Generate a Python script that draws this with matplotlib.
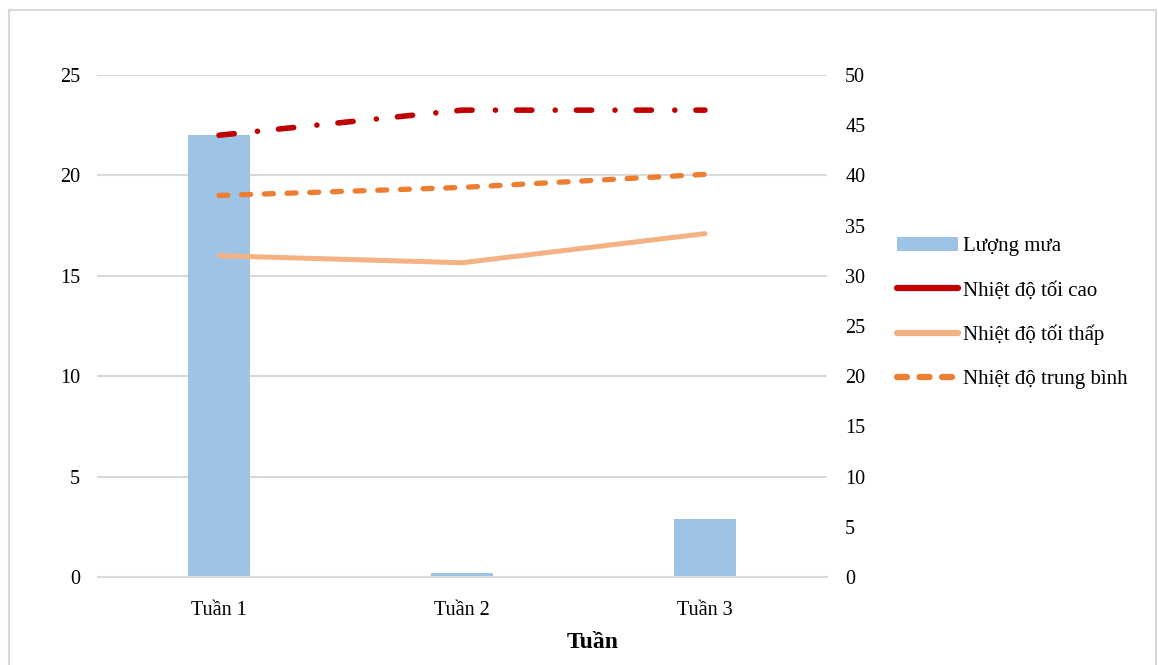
import matplotlib
matplotlib.use("Agg")
import matplotlib.pyplot as plt
from matplotlib.patches import Rectangle
from matplotlib.lines import Line2D
import numpy as np

plt.rcParams['font.family'] = ['Liberation Serif', 'DejaVu Serif']

weeks = ["Tuần 1", "Tuần 2", "Tuần 3"]
rain = [22.0, 0.2, 2.9]
t_max = [44.0, 46.5, 46.5]
t_min = [32.0, 31.3, 34.2]
t_avg = [38.0, 38.8, 40.1]
left_ticks = [0, 5, 10, 15, 20, 25]
right_ticks = [0, 5, 10, 15, 20, 25, 30, 35, 40, 45, 50]
labels = ['Lượng mưa', 'Nhiệt độ tối cao', 'Nhiệt độ tối thấp', 'Nhiệt độ trung bình']

fig = plt.figure(figsize=(11.58, 6.65), dpi=100)
fig.patches.append(Rectangle((9/1158, -0.01), (1156-9)/1158, 1 - 10/665 + 0.01,
                             transform=fig.transFigure, fill=False,
                             edgecolor='#d9d9d9', linewidth=1.5))

ax = fig.add_axes([97.5/1158, 1 - 577/665, 729/1158, 502/665])
ax2 = ax.twinx()

x = np.arange(len(weeks))
bars = ax.bar(x, rain, width=0.255, color='#9DC3E6', label=labels[0], zorder=2)
ax.set_ylim(0, 25)
ax.set_xlim(-0.5, 2.5)
ax.set_yticks(left_ticks)
ax.grid(axis='y', color='#d9d9d9', linewidth=1.5, zorder=0)
ax.set_axisbelow(True)
for s in ['top', 'left', 'right']:
    ax.spines[s].set_visible(False)
ax.spines['bottom'].set_color('#d9d9d9')
ax.spines['bottom'].set_linewidth(1.5)
ax.set_xticks(x)
ax.set_xticklabels(weeks)
ax.tick_params(axis='both', length=0, labelsize=14.5)
ax.tick_params(axis='y', pad=12.5)
ax.tick_params(axis='x', pad=17)

fig.text(593/1158, 1 - 642/665, 'Tuần', fontsize=17, fontweight='bold',
         ha='center', va='center')

l1, = ax2.plot(x, t_max, color='#C00000', linewidth=4, label=labels[1],
               dash_capstyle='round', solid_capstyle='round')
l1.set_dashes([2.75, 4.2, 0.01, 3.8])
l2, = ax2.plot(x, t_min, color='#F4B183', linewidth=3.6, label=labels[2],
               solid_capstyle='round')
l3, = ax2.plot(x, t_avg, color='#ED7D31', linewidth=3.8, label=labels[3],
               dash_capstyle='round')
l3.set_dashes([1.7, 2.6])
ax2.set_ylim(0, 50)
ax2.set_yticks(right_ticks)
for s in ax2.spines.values():
    s.set_visible(False)
ax2.tick_params(axis='y', length=0, labelsize=14.5, pad=13.5)

h_max = Line2D([], [], color='#C00000', linewidth=4.5, solid_capstyle='round')
h_min = Line2D([], [], color='#F4B183', linewidth=4.5, solid_capstyle='round')
h_avg = Line2D([], [], color='#ED7D31', linewidth=4.5, dash_capstyle='round')
h_avg.set_dashes([1.6, 2.0])
leg = fig.legend([bars, h_max, h_min, h_avg], labels,
                 loc='center left', bbox_to_anchor=(878/1158, 1 - 313/665),
                 frameon=False, fontsize=15, handlelength=2.93, handleheight=0.7,
                 handletextpad=0.24, labelspacing=1.17)

fig.savefig('out.png', dpi=100)
